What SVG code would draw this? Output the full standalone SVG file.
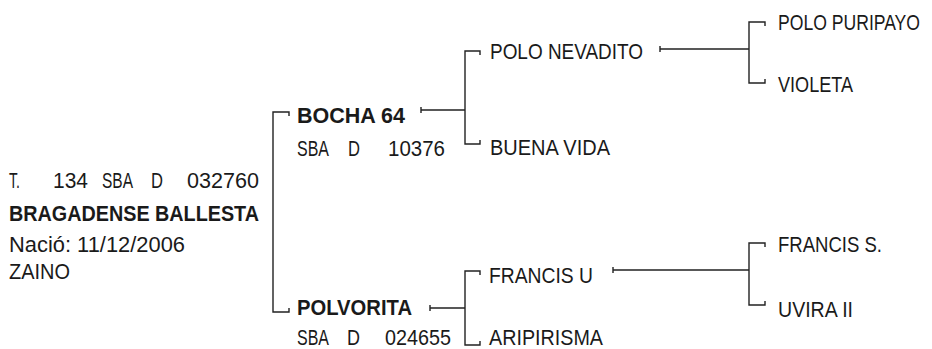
<svg xmlns="http://www.w3.org/2000/svg" width="932" height="349" viewBox="0 0 932 349">
<style>
text{font-family:"Liberation Sans",Arial,sans-serif;font-size:22px;fill:#1a1a1a}
.b{font-weight:bold}
.c line,.c path{stroke:#222;stroke-width:1.4;fill:none}
</style>
<rect width="932" height="349" fill="#fff"/>
<g id="subject">
<text y="188"><tspan x="9" textLength="11" lengthAdjust="spacingAndGlyphs">T.</tspan><tspan x="53" textLength="35" lengthAdjust="spacingAndGlyphs">134</tspan><tspan x="102" textLength="31" lengthAdjust="spacingAndGlyphs">SBA</tspan><tspan x="151" textLength="12" lengthAdjust="spacingAndGlyphs">D</tspan><tspan x="187" textLength="72" lengthAdjust="spacingAndGlyphs">032760</tspan></text>
<text class="b" x="9" y="221" textLength="250" lengthAdjust="spacingAndGlyphs">BRAGADENSE BALLESTA</text>
<text x="9" y="252" textLength="176" lengthAdjust="spacingAndGlyphs">Nació: 11/12/2006</text>
<text x="9" y="279" textLength="61" lengthAdjust="spacingAndGlyphs">ZAINO</text>
</g>
<g id="bocha">
<text class="b" x="297" y="123" textLength="108" lengthAdjust="spacingAndGlyphs">BOCHA 64</text>
<text y="156"><tspan x="297" textLength="32" lengthAdjust="spacingAndGlyphs">SBA</tspan><tspan x="348" textLength="12" lengthAdjust="spacingAndGlyphs">D</tspan><tspan x="388" textLength="57" lengthAdjust="spacingAndGlyphs">10376</tspan></text>
</g>
<g id="polvorita">
<text class="b" x="297" y="315" textLength="115" lengthAdjust="spacingAndGlyphs">POLVORITA</text>
<text y="345"><tspan x="297" textLength="32" lengthAdjust="spacingAndGlyphs">SBA</tspan><tspan x="347" textLength="13" lengthAdjust="spacingAndGlyphs">D</tspan><tspan x="385" textLength="66" lengthAdjust="spacingAndGlyphs">024655</tspan></text>
</g>
<g id="polo-nevadito"><text x="490" y="59" textLength="153" lengthAdjust="spacingAndGlyphs">POLO NEVADITO</text></g>
<g id="buena-vida"><text x="490" y="155" textLength="120" lengthAdjust="spacingAndGlyphs">BUENA VIDA</text></g>
<g id="francis-u"><text x="489" y="283" textLength="104" lengthAdjust="spacingAndGlyphs">FRANCIS U</text></g>
<g id="aripirisma"><text x="489" y="345" textLength="114" lengthAdjust="spacingAndGlyphs">ARIPIRISMA</text></g>
<g id="polo-puripayo"><text transform="translate(778,30) scale(0.8,1)" x="0" y="0">POLO PURIPAYO</text></g>
<g id="violeta"><text x="778" y="92" textLength="75" lengthAdjust="spacingAndGlyphs">VIOLETA</text></g>
<g id="francis-s"><text x="778" y="252" textLength="104" lengthAdjust="spacingAndGlyphs">FRANCIS S.</text></g>
<g id="uvira-ii"><text x="778" y="317" textLength="75" lengthAdjust="spacingAndGlyphs">UVIRA II</text></g>
<g class="c" id="connectors">
<path d="M289 116V112H273V312H289V308"/>
<path d="M421 107V113M421 110H465"/>
<path d="M480 55V51H465V144H480V140"/>
<path d="M430 305V311M430 308H465"/>
<path d="M480 275V271H465V345H480V341"/>
<path d="M660 46V52M660 49H749"/>
<path d="M765 26V22H749V83H765V79"/>
<path d="M613 267V273M613 270H749"/>
<path d="M765 247V243H749V305H765V301"/>
</g>
</svg>
